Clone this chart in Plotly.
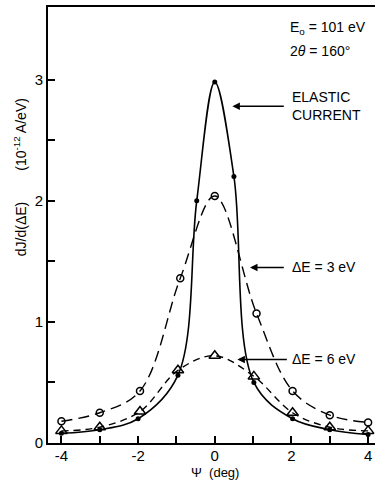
import plotly.graph_objects as go

# Elastic current (solid line, filled dots)
el_x = [-4, -3, -2, -0.96, -0.47, 0, 0.5, 1.02, 2.03, 3, 4]
el_y = [0.08, 0.11, 0.20, 0.56, 2.00, 2.98, 2.20, 0.50, 0.20, 0.11, 0.07]

# dE = 3 eV (long dashes, open circles)
e3_x = [-4, -3, -1.95, -0.9, 0, 1.09, 2.03, 3, 4]
e3_y = [0.18, 0.25, 0.43, 1.36, 2.04, 1.07, 0.43, 0.23, 0.17]

# dE = 6 eV (short dashes, open triangles)
e6_x = [-4, -3, -1.95, -0.96, 0, 1.02, 2.03, 3, 4]
e6_y = [0.10, 0.13, 0.26, 0.60, 0.72, 0.55, 0.25, 0.13, 0.10]

x_ticks = [-4, -2, 0, 2, 4]
y_ticks = [0, 1, 2, 3]

FONT = "Liberation Sans"
fig = go.Figure()

fig.add_trace(go.Scatter(x=e3_x, y=e3_y, mode="lines+markers",
                         line=dict(color="black", width=1.4, dash="11px,6px", shape="spline", smoothing=1.0),
                         marker=dict(symbol="circle-open", size=7, color="black", line=dict(width=1.5))))
fig.add_trace(go.Scatter(x=e6_x, y=e6_y, mode="lines+markers",
                         line=dict(color="black", width=1.4, dash="7px,5px", shape="spline", smoothing=1.0),
                         marker=dict(symbol="triangle-up-open", size=10, color="black", line=dict(width=1.5))))
fig.add_trace(go.Scatter(x=el_x, y=el_y, mode="lines+markers",
                         line=dict(color="black", width=1.6, shape="spline", smoothing=1.0),
                         marker=dict(symbol="circle", size=5, color="black")))

annotations = [
    dict(x=0.46, y=2.78, ax=1.84, ay=2.78, axref="x", ayref="y", text="", showarrow=True,
         arrowhead=2, arrowsize=1, arrowwidth=1.5, arrowcolor="black"),
    dict(x=0.92, y=1.45, ax=1.84, ay=1.45, axref="x", ayref="y", text="", showarrow=True,
         arrowhead=2, arrowsize=1, arrowwidth=1.5, arrowcolor="black"),
    dict(x=0.59, y=0.69, ax=1.92, ay=0.69, axref="x", ayref="y", text="", showarrow=True,
         arrowhead=2, arrowsize=1, arrowwidth=1.5, arrowcolor="black"),
    dict(x=1.95, y=2.78, text="ELASTIC<br>CURRENT", showarrow=False, xanchor="left", yanchor="middle",
         align="left", font=dict(family=FONT, size=14, color="black")),
    dict(x=1.95, y=1.45, text="ΔE = 3 eV", showarrow=False, xanchor="left", yanchor="middle",
         font=dict(family=FONT, size=14, color="black")),
    dict(x=1.95, y=0.69, text="ΔE = 6 eV", showarrow=False, xanchor="left", yanchor="middle",
         font=dict(family=FONT, size=14, color="black")),
    dict(x=1.9, y=3.43, text="E<sub>o</sub> = 101 eV", showarrow=False, xanchor="left", yanchor="middle",
         font=dict(family=FONT, size=14, color="black")),
    dict(x=1.9, y=3.24, text="2<i>θ</i> = 160°", showarrow=False, xanchor="left", yanchor="middle",
         font=dict(family=FONT, size=14, color="black")),
    dict(xref="paper", yref="paper", x=-0.085, y=0.61, text="dJ/d(ΔE)        (10<sup>-12</sup> A/eV)",
         textangle=-90, showarrow=False, xanchor="center", yanchor="middle",
         font=dict(family=FONT, size=14, color="black")),
    dict(xref="x", yref="paper", x=0, y=-0.068, text="Ψ  (deg)", showarrow=False,
         xanchor="center", yanchor="middle", borderpad=0, font=dict(family=FONT, size=13, color="black")),
]

fig.update_layout(
    width=375, height=481, margin=dict(l=48, r=0, t=7, b=38),
    paper_bgcolor="white", plot_bgcolor="white", showlegend=False,
    font=dict(family=FONT, size=15, color="black"),
    annotations=annotations,
    xaxis=dict(range=[-4.35, 4.18], tickvals=x_ticks, ticktext=["-4", "-2", "0", "2", "4"],
               ticks="inside", ticklen=7, tickwidth=1.5, tickcolor="black", ticklabelstandoff=-2,
               minor=dict(tickvals=[-3, -1, 1, 3], ticks="inside", ticklen=7, tickwidth=1.5, tickcolor="black"),
               showline=True, linecolor="black", linewidth=2, mirror=True, showgrid=False, zeroline=False),
    yaxis=dict(range=[0, 3.6], tickvals=y_ticks, ticks="inside", ticklen=7, tickwidth=1.5, tickcolor="black",
               minor=dict(tickvals=[0.5, 1.5, 2.5], ticks="inside", ticklen=7, tickwidth=1.5, tickcolor="black"),
               showline=True, linecolor="black", linewidth=2, showgrid=False, zeroline=False),
)

fig.write_html("out.html")
